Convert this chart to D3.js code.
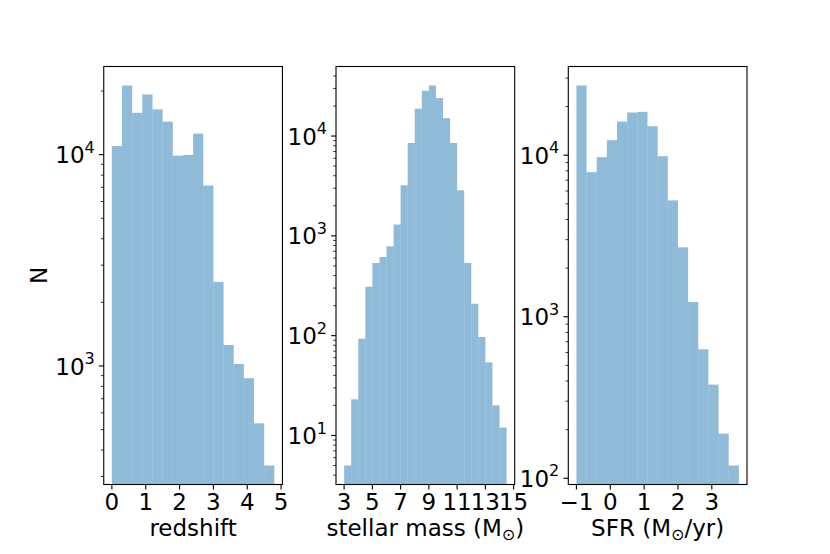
<!DOCTYPE html>
<html>
<head>
<meta charset="utf-8">
<script src="https://cdn.jsdelivr.net/npm/d3@7"></script>
<style>
  body { margin: 0; background: #fff; }
  text { font-family: 'DejaVu Sans', sans-serif; fill: #000; }
</style>
</head>
<body>
<div class="workspace"></div>
<script>
// bin edges and counts
const redshiftEdges = [0, 0.3, 0.6, 0.9, 1.2, 1.5, 1.8, 2.1, 2.4, 2.7, 3.0, 3.3, 3.6, 3.9, 4.2, 4.5, 4.8];
const redshiftCounts = [10980, 21240, 15780, 19270, 16370, 14320, 9890, 9960, 12570, 7140, 2500, 1257, 1022, 875, 535, 338];
const redshiftTicks = [0, 1, 2, 3, 4, 5];
const redshiftYTicks = [1e3, 1e4];

const massEdges = [3, 3.5, 4, 4.5, 5, 5.5, 6, 6.5, 7, 7.5, 8, 8.5, 9, 9.5, 10, 10.5, 11, 11.5, 12, 12.5, 13, 13.5, 14, 14.5];
const massCounts = [5, 23, 93, 309, 534, 614, 785, 1298, 3213, 8530, 18800, 28400, 32100, 24000, 15100, 8530, 2860, 534, 209, 97, 54, 20, 12];
const massTicks = [3, 5, 7, 9, 11, 13, 15];
const massYTicks = [1e1, 1e2, 1e3, 1e4];

const sfrEdges = [-1, -0.7, -0.4, -0.1, 0.2, 0.5, 0.8, 1.1, 1.4, 1.7, 2.0, 2.3, 2.6, 2.9, 3.2, 3.5, 3.8];
const sfrCounts = [27000, 7850, 9720, 12380, 16150, 18370, 18540, 15110, 9860, 5250, 2690, 1233, 628, 380, 189, 120];
const sfrTicks = [-1, 0, 1, 2, 3];
const sfrYTicks = [1e2, 1e3, 1e4];

const width = 830;
const height = 554;
const plotTop = 66.5;
const plotBottom = 484.5;
const panelWidth = 178.7;
const panelLefts = [103.75, 336.0, 568.3];
const fontSize = 23;
const smallSize = 16;

const svg = d3
  .select('.workspace')
  .append('svg')
  .attr('width', width)
  .attr('height', height);

function fmtTick(d) {
  return d < 0 ? '\u2212' + Math.abs(d) : String(d);
}

function drawPanel(left, edges, counts, ticks, yTicks, label) {
  const x0 = edges[0];
  const x1 = edges[edges.length - 1];
  const xpad = (x1 - x0) * 0.05;
  const x = d3
    .scaleLinear()
    .domain([x0 - xpad, x1 + xpad])
    .range([left, left + panelWidth]);

  const lmin = Math.log10(d3.min(counts));
  const lmax = Math.log10(d3.max(counts));
  const lpad = (lmax - lmin) * 0.05;
  const y = d3
    .scaleLog()
    .domain([Math.pow(10, lmin - lpad), Math.pow(10, lmax + lpad)])
    .range([plotBottom, plotTop]);

  const g = svg.append('g');

  // bars
  g.selectAll('rect')
    .data(counts)
    .enter()
    .append('rect')
    .attr('x', (d, i) => x(edges[i]))
    .attr('width', (d, i) => x(edges[i + 1]) - x(edges[i]))
    .attr('y', (d) => y(d))
    .attr('height', (d) => plotBottom - y(d))
    .style('fill', '#1f77b4')
    .style('fill-opacity', 0.5);

  // minor log ticks
  const [dmin, dmax] = y.domain();
  const minor = [];
  for (let e = Math.floor(Math.log10(dmin)); e <= Math.ceil(Math.log10(dmax)); e++) {
    for (let m = 2; m <= 9; m++) {
      const v = m * Math.pow(10, e);
      if (v >= dmin && v <= dmax) minor.push(v);
    }
  }
  g.selectAll('.minor')
    .data(minor)
    .enter()
    .append('line')
    .attr('x1', left - 2.8)
    .attr('x2', left)
    .attr('y1', (d) => y(d))
    .attr('y2', (d) => y(d))
    .style('stroke', '#000')
    .style('stroke-width', 0.8);

  // major y ticks
  g.selectAll('.ymajor')
    .data(yTicks)
    .enter()
    .append('line')
    .attr('x1', left - 4.9)
    .attr('x2', left)
    .attr('y1', (d) => y(d))
    .attr('y2', (d) => y(d))
    .style('stroke', '#000')
    .style('stroke-width', 1.1);

  const yl = g
    .selectAll('.ylab')
    .data(yTicks)
    .enter()
    .append('text')
    .attr('x', left - 9)
    .attr('y', (d) => y(d) + 8.6)
    .attr('text-anchor', 'end')
    .style('font-size', fontSize + 'px');
  yl.append('tspan').text('10');
  yl.append('tspan')
    .attr('dy', -10.5)
    .style('font-size', smallSize + 'px')
    .text((d) => Math.round(Math.log10(d)));

  // x ticks
  g.selectAll('.xmajor')
    .data(ticks)
    .enter()
    .append('line')
    .attr('x1', (d) => x(d))
    .attr('x2', (d) => x(d))
    .attr('y1', plotBottom)
    .attr('y2', plotBottom + 4.9)
    .style('stroke', '#000')
    .style('stroke-width', 1.1);

  g.selectAll('.xlab')
    .data(ticks)
    .enter()
    .append('text')
    .attr('x', (d) => x(d))
    .attr('y', 510)
    .attr('text-anchor', 'middle')
    .style('font-size', fontSize + 'px')
    .text(fmtTick);

  // frame
  g.append('rect')
    .attr('x', left)
    .attr('y', plotTop)
    .attr('width', panelWidth)
    .attr('height', plotBottom - plotTop)
    .style('fill', 'none')
    .style('stroke', '#000')
    .style('stroke-width', 1.1);

  // x label
  const xl = g
    .append('text')
    .attr('x', left + panelWidth / 2)
    .attr('y', 535.5)
    .attr('text-anchor', 'middle')
    .style('font-size', fontSize + 'px');
  label.forEach((part) => {
    const t = xl.append('tspan').text(part.text);
    if (part.sub) {
      t.attr('dy', 4).style('font-size', smallSize + 'px');
    } else if (part.after) {
      t.attr('dy', -4);
    }
  });
}

drawPanel(panelLefts[0], redshiftEdges, redshiftCounts, redshiftTicks, redshiftYTicks, [
  { text: 'redshift' },
]);
drawPanel(panelLefts[1], massEdges, massCounts, massTicks, massYTicks, [
  { text: 'stellar mass (M' },
  { text: '\u2299', sub: true },
  { text: ')', after: true },
]);
drawPanel(panelLefts[2], sfrEdges, sfrCounts, sfrTicks, sfrYTicks, [
  { text: 'SFR (M' },
  { text: '\u2299', sub: true },
  { text: '/yr)', after: true },
]);

// shared y label
svg
  .append('text')
  .attr('transform', 'translate(47,275.5) rotate(-90)')
  .attr('text-anchor', 'middle')
  .style('font-size', fontSize + 'px')
  .text('N');
</script>
</body>
</html>
